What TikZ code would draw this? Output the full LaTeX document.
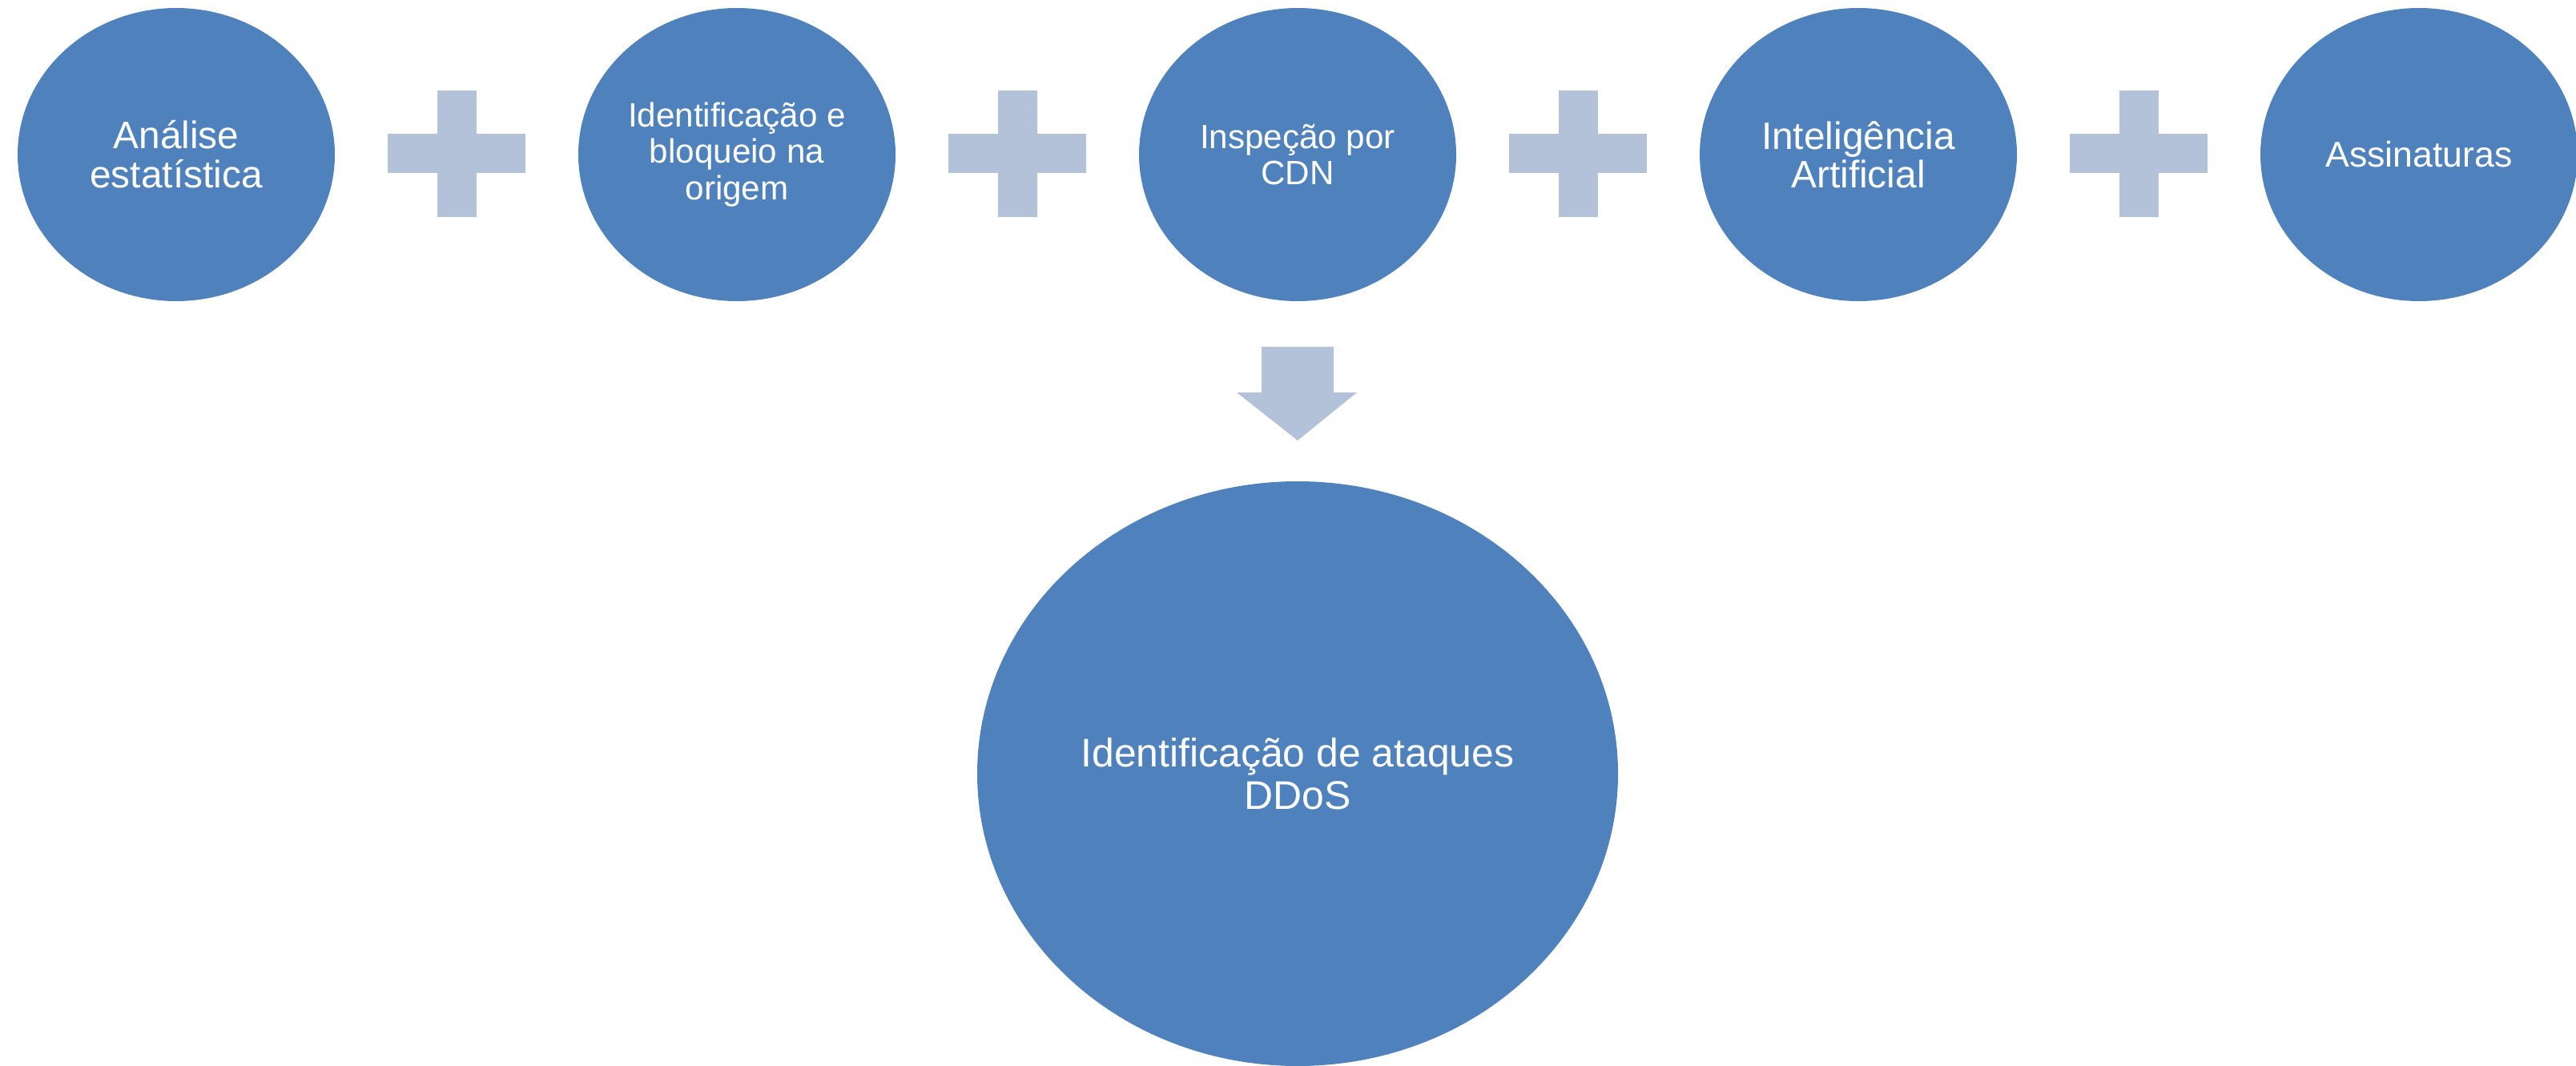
\documentclass[tikz,border=0pt]{standalone}
\usepackage{fontspec}
\setmainfont{Liberation Sans}
\usetikzlibrary{shapes.geometric}
\definecolor{stageblue}{RGB}{79,129,189}
\definecolor{plusgrey}{RGB}{179,194,217}
\tikzset{
    stage/.style={ellipse, fill=stageblue, text=white, align=center, inner sep=0pt,
        minimum width=3.96cm, minimum height=3.66cm},
    plusfill/.style={fill=plusgrey}
}
\begin{document}
\begin{tikzpicture}
        \useasboundingbox (0,0) rectangle (32.16,-13.31);
        \node[stage, font=\fontsize{13.6}{14}\selectfont] (stat) at (2.2,-1.93) {Análise\\estatística};
        \node[stage, font=\fontsize{12}{12.9}\selectfont] (origin) at (9.2,-1.93) {Identificação e\\bloqueio na\\origem};
        \node[stage, font=\fontsize{12}{12.9}\selectfont] (cdn) at (16.2,-1.93) {Inspeção por\\CDN};
        \node[stage, font=\fontsize{13.6}{13.6}\selectfont] (ai) at (23.2,-1.93) {Inteligência\\Artificial};
        \node[stage, font=\fontsize{12.7}{13}\selectfont] (sign) at (30.2,-1.93) {Assinaturas};
        \node[stage, minimum width=8cm, minimum height=7.3cm, font=\fontsize{14.2}{15}\selectfont]
            (ddos) at (16.2,-9.66) {Identificação de ataques\\DDoS};
        \foreach \x in {5.7, 12.7, 19.7, 26.7} {
            \fill[plusfill] (\x-0.86,-2.165) rectangle (\x+0.86,-1.675);
            \fill[plusfill] (\x-0.245,-2.71) rectangle (\x+0.245,-1.13);
        }
        \fill[plusfill] (15.75,-4.33) -- (16.65,-4.33) -- (16.65,-4.90) -- (16.94,-4.90)
            -- (16.2,-5.50) -- (15.44,-4.90) -- (15.75,-4.90) -- cycle;
    \end{tikzpicture}
\end{document}
